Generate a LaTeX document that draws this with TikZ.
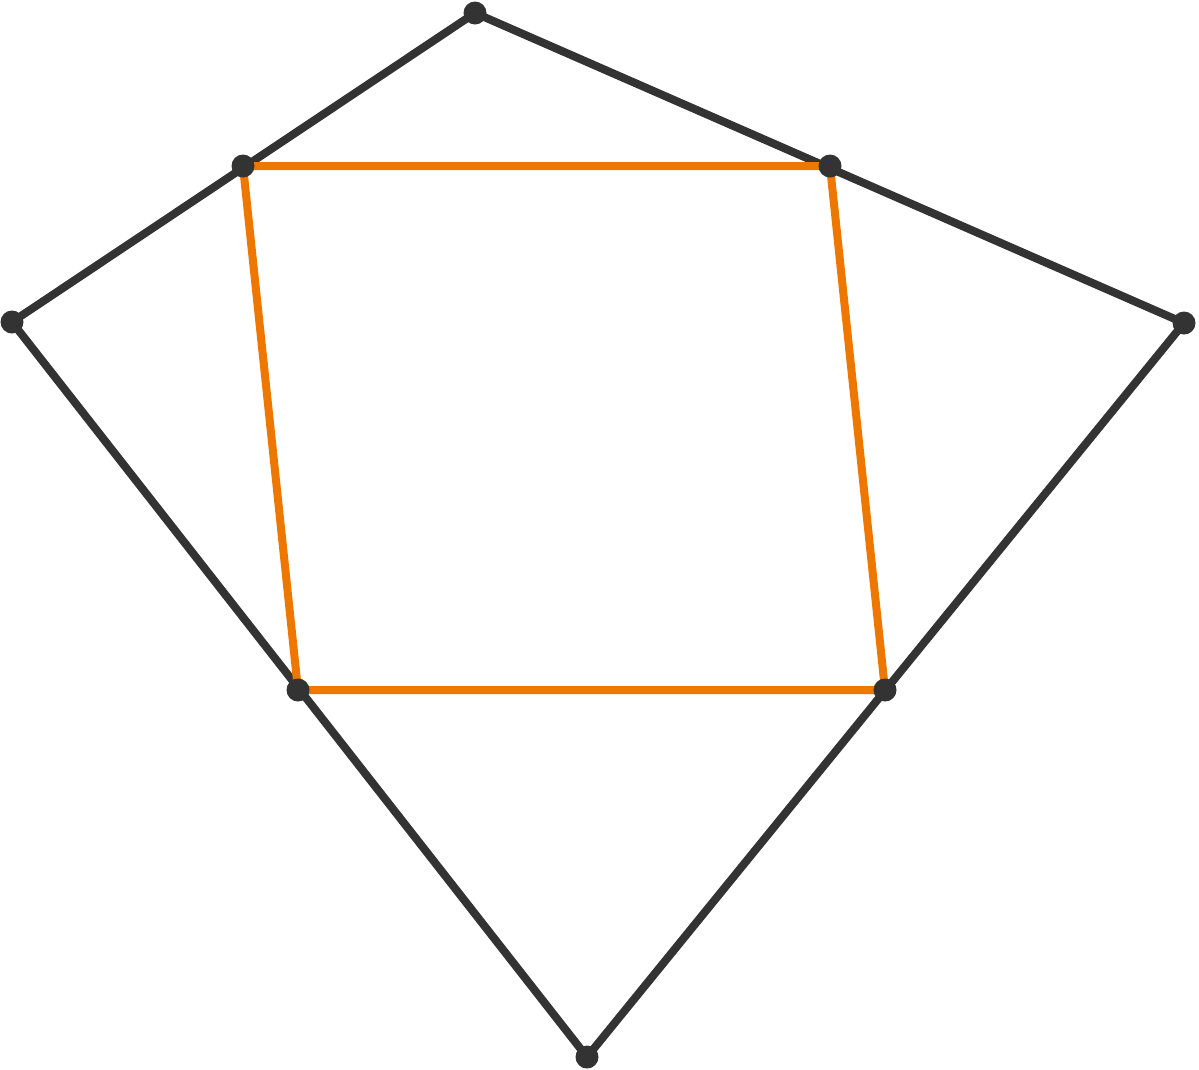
\documentclass[tikz,border=0pt]{standalone}
\definecolor{darkg}{HTML}{333333}
\definecolor{orng}{HTML}{EE7700}
\tikzset{
  outer/.style={draw=darkg,line width=8pt,line join=round},
  inner/.style={draw=orng,line width=8pt,line join=round},
  pt/.style={circle,fill=darkg,inner sep=0pt,minimum size=23pt}
}
\begin{document}
\begin{tikzpicture}[x=1pt,y=-1pt]
\useasboundingbox (0,0) rectangle (1199,1069);
\coordinate (T) at (475,13);
\coordinate (L) at (12,322);
\coordinate (R) at (1184,323);
\coordinate (B) at (587,1057);
\coordinate (M1) at (243,166);
\coordinate (M2) at (830,166);
\coordinate (M3) at (298,690);
\coordinate (M4) at (885,690);
\draw[outer] (L) -- (T) -- (R) -- (B) -- cycle;
\draw[inner] (M1) -- (M2) -- (M4) -- (M3) -- cycle;
\foreach \p in {T,L,R,B,M1,M2,M3,M4}
  \node[pt] (n\p) at (\p) {};
\end{tikzpicture}
\end{document}
